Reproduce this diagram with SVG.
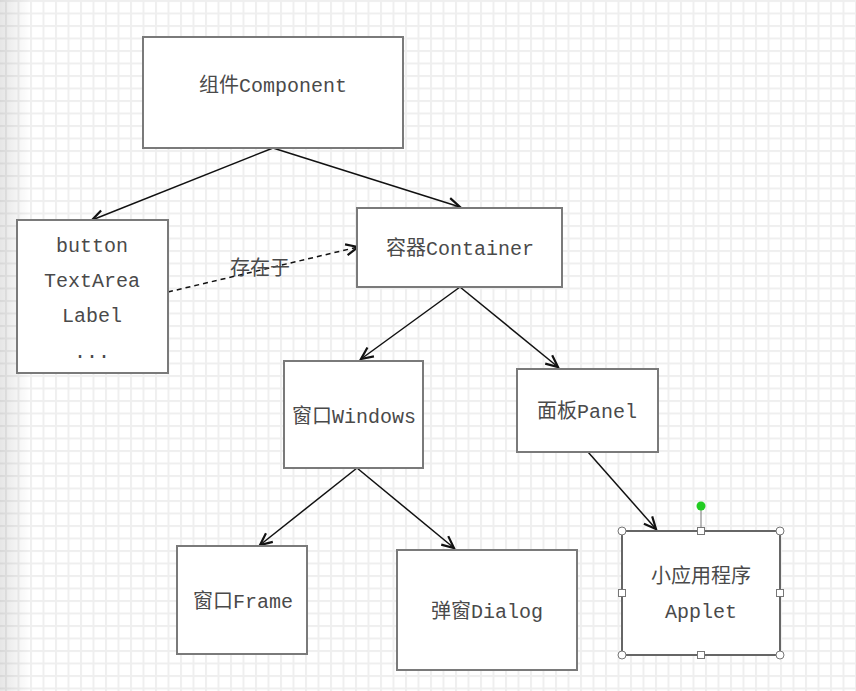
<svg xmlns="http://www.w3.org/2000/svg" width="856" height="691" viewBox="0 0 856 691">
<style>
.box{fill:#fff;stroke:#7a7a7a;stroke-width:2}
.t{font-family:"Liberation Mono","Noto Sans CJK SC",monospace;font-size:20px;fill:#4a4a4a;text-anchor:middle}
.c{fill:none;stroke:#111;stroke-width:1.5}
.d{stroke-dasharray:5,4}
.h{fill:#fff;stroke:#777;stroke-width:1}
</style>
<defs>
<pattern id="grid" patternUnits="userSpaceOnUse" x="5" y="0" width="12.5" height="12.5">
<rect x="0" y="0" width="2" height="12.5" fill="#efefef"/>
<rect x="0" y="0" width="12.5" height="2" fill="#efefef"/>
</pattern>
<linearGradient id="lg" x1="0" y1="0" x2="1" y2="0">
<stop offset="0" stop-color="#000" stop-opacity="0.1"/>
<stop offset="1" stop-color="#000" stop-opacity="0"/>
</linearGradient>
<marker id="arr" viewBox="-14 -8 16 16" refX="0" refY="0" markerWidth="16" markerHeight="16" markerUnits="userSpaceOnUse" orient="auto">
<path d="M-12,-5.5 L0,0 L-12,5.5" fill="none" stroke="#111" stroke-width="2.2"/>
</marker>
</defs>
<rect width="856" height="691" fill="#fff"/>
<rect width="856" height="691" fill="url(#grid)"/>
<rect width="30" height="691" fill="url(#lg)"/>

<g id="connectors">
<line class="c" x1="273" y1="148" x2="92" y2="220" marker-end="url(#arr)"/>
<line class="c" x1="273" y1="148" x2="460" y2="207" marker-end="url(#arr)"/>
<line class="c d" x1="168" y1="292" x2="358" y2="247" marker-end="url(#arr)"/>
<text class="t" x="260" y="275">存在于</text>
<line class="c" x1="460" y1="287" x2="361" y2="359" marker-end="url(#arr)"/>
<line class="c" x1="460" y1="287" x2="558" y2="367" marker-end="url(#arr)"/>
<line class="c" x1="357" y1="468" x2="260" y2="545" marker-end="url(#arr)"/>
<line class="c" x1="357" y1="468" x2="454" y2="548" marker-end="url(#arr)"/>
<line class="c" x1="588" y1="452" x2="656" y2="529" marker-end="url(#arr)"/>
</g>

<g id="component">
<rect class="box" x="143" y="37" width="260" height="111"/>
<text class="t" x="273" y="92">组件Component</text>
</g>
<g id="widgets">
<rect class="box" x="17" y="220" width="151" height="153"/>
<text class="t" x="92" y="252">button</text>
<text class="t" x="92" y="287">TextArea</text>
<text class="t" x="92" y="322">Label</text>
<text class="t" x="92" y="358">...</text>
</g>
<g id="container">
<rect class="box" x="357" y="208" width="205" height="79"/>
<text class="t" x="460" y="255">容器Container</text>
</g>
<g id="windows">
<rect class="box" x="284" y="361" width="139" height="107"/>
<text class="t" x="354" y="423">窗口Windows</text>
</g>
<g id="panel">
<rect class="box" x="517" y="369" width="141" height="83"/>
<text class="t" x="587" y="418">面板Panel</text>
</g>
<g id="frame">
<rect class="box" x="177" y="546" width="130" height="108"/>
<text class="t" x="243" y="608">窗口Frame</text>
</g>
<g id="dialog">
<rect class="box" x="397" y="550" width="180" height="120"/>
<text class="t" x="487" y="618">弹窗Dialog</text>
</g>
<g id="applet">
<rect class="box" x="622" y="531" width="158" height="124" style="stroke:#666"/>
<text class="t" x="701" y="583">小应用程序</text>
<text class="t" x="701" y="618">Applet</text>
<line x1="701" y1="507" x2="701" y2="531" stroke="#777" stroke-width="1"/>
<circle cx="701" cy="506" r="4.5" fill="#22cc22"/>
<circle class="h" cx="622" cy="531" r="4"/>
<circle class="h" cx="780" cy="531" r="4"/>
<circle class="h" cx="622" cy="655" r="4"/>
<circle class="h" cx="780" cy="655" r="4"/>
<rect class="h" x="697.5" y="527.5" width="7" height="7"/>
<rect class="h" x="697.5" y="651.5" width="7" height="7"/>
<rect class="h" x="618.5" y="589.5" width="7" height="7"/>
<rect class="h" x="776.5" y="589.5" width="7" height="7"/>
</g>
</svg>
